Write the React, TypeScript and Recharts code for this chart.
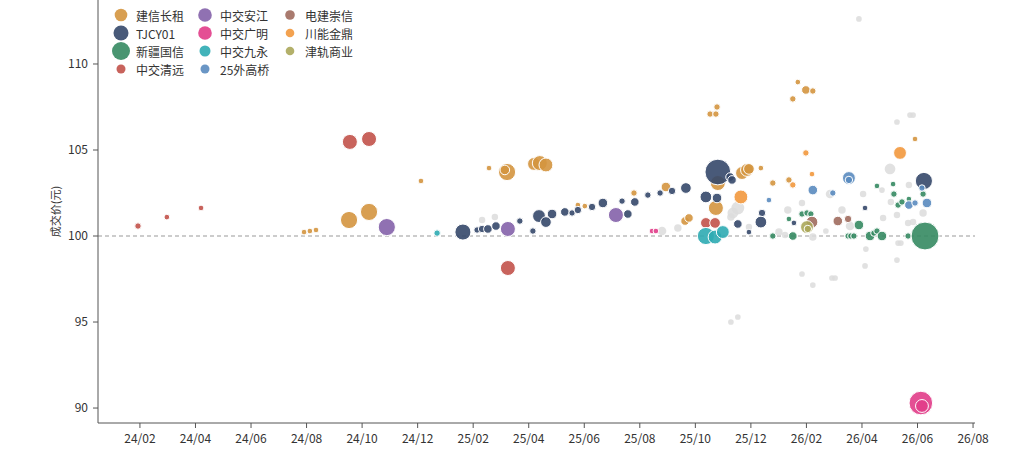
import { ReferenceLine, Scatter, ScatterChart, XAxis, YAxis, ZAxis } from "recharts";

// [月份序号(24/01 = 0), 成交价, 成交量]
type Pt = [number, number, number];

const jianxin: Pt[] = [
  [6.91, 100.23, 7], [7.12, 100.29, 7], [7.34, 100.35, 7], [8.53, 100.93, 64], [9.25, 101.4, 64],
  [11.12, 103.2, 7], [13.57, 103.95, 7], [14.22, 103.72, 64], [14.14, 103.84, 20], [15.19, 104.19, 36],
  [15.4, 104.24, 49], [15.62, 104.13, 42], [16.77, 101.8, 7], [17.02, 101.74, 7], [18.79, 102.5, 9],
  [19.94, 102.85, 20], [20.63, 100.87, 16], [20.77, 101.05, 16], [21.53, 107.09, 9], [21.74, 107.09, 9],
  [21.78, 107.5, 9], [21.81, 103.08, 49], [21.74, 101.63, 49], [22.68, 103.66, 36], [22.86, 103.84, 36],
  [22.93, 103.9, 25], [23.36, 103.95, 7], [23.79, 103.08, 9], [24.37, 103.26, 9], [24.69, 108.95, 7],
  [24.98, 108.49, 16], [25.23, 108.43, 9], [24.51, 107.97, 9], [28.91, 105.64, 7],
];

const tjcy01: Pt[] = [
  [12.63, 100.23, 56], [13.14, 100.35, 9], [13.32, 100.41, 12], [13.53, 100.41, 16], [13.82, 100.58, 16],
  [14.68, 100.87, 9], [15.15, 100.29, 9], [15.37, 101.16, 36], [15.62, 100.81, 25], [15.84, 101.28, 20],
  [16.3, 101.4, 16], [16.56, 101.34, 9], [16.77, 101.51, 12], [17.28, 101.69, 12], [17.67, 101.92, 20],
  [18.36, 102.03, 9], [18.57, 101.28, 16], [18.82, 101.98, 16], [19.29, 102.38, 9], [19.73, 102.5, 9],
  [20.16, 102.62, 12], [20.66, 102.79, 25], [21.81, 103.72, 144], [22.25, 103.43, 16], [22.32, 103.26, 16],
  [21.38, 102.27, 30], [21.78, 102.21, 20], [22.53, 100.7, 16], [22.93, 100.23, 7], [23.4, 101.34, 12],
  [23.36, 100.81, 30], [24.55, 100.76, 7], [27.11, 101.63, 7], [29.23, 103.2, 64],
];

const xinjiang: Pt[] = [
  [23.79, 100, 9], [24.51, 100, 16], [24.37, 100.99, 7], [24.84, 101.28, 9], [25.02, 101.34, 9],
  [25.16, 101.28, 9], [26.89, 100.64, 20], [26.5, 100, 9], [26.6, 100, 9], [26.71, 100, 9],
  [27.29, 100, 20], [27.43, 100.17, 9], [27.54, 100.29, 9], [27.72, 100, 20], [28.66, 100, 9],
  [29.27, 100, 169], [27.54, 102.91, 7], [28.12, 103.02, 7], [28.15, 102.44, 9], [28.3, 101.8, 9],
  [28.44, 101.98, 9], [28.69, 102.15, 7], [29.2, 102.44, 9],
];

const qingyuan: Pt[] = [
  [0.93, 100.58, 9], [1.97, 101.1, 7], [3.2, 101.63, 7], [8.56, 105.47, 49], [9.25, 105.64, 49],
  [14.25, 98.14, 49], [21.38, 100.76, 25], [21.71, 100.76, 25],
];

const anjiang: Pt[] = [[9.89, 100.52, 64], [14.25, 100.41, 49], [18.14, 101.22, 49]];

const guangming: Pt[] = [[19.44, 100.29, 7], [19.58, 100.29, 7], [29.12, 90.29, 121], [29.16, 90.12, 36]];

const jiuyong: Pt[] = [[11.7, 100.17, 9], [21.38, 100, 64], [21.71, 99.94, 42], [21.99, 100.23, 36]];

const waigaoqiao: Pt[] = [
  [23.65, 102.09, 7], [25.23, 102.67, 20], [25.95, 102.5, 9], [26.53, 103.37, 36], [26.53, 103.26, 12],
  [29.16, 102.79, 9], [28.69, 101.8, 16], [28.91, 101.92, 9], [29.34, 101.92, 20],
];

const chongxin: Pt[] = [[25.2, 100.81, 30], [26.13, 100.87, 20], [26.5, 100.99, 12]];

const chuanneng: Pt[] = [[22.64, 102.27, 42], [24.98, 104.83, 9], [25.2, 103.6, 7], [24.51, 102.97, 9], [28.37, 104.83, 36]];

const jingui: Pt[] = [[25.02, 100.52, 36], [25.05, 100.41, 12]];

const others: Pt[] = [
  [13.32, 100.93, 9], [13.78, 101.1, 9], [19.8, 100.29, 16], [20.37, 100.47, 12], [22.53, 101.63, 36],
  [22.35, 101.34, 25], [22.28, 101.1, 12], [22.93, 100.52, 9], [24.01, 100.23, 12], [24.23, 100.06, 9],
  [24.33, 101.51, 12], [24.84, 101.92, 9], [25.23, 99.94, 12], [25.85, 102.44, 16], [26.28, 101.51, 12],
  [26.57, 100.58, 16], [25.7, 100.29, 7], [27.04, 102.44, 9], [28.01, 103.9, 25], [28.69, 102.97, 9],
  [29.2, 101.34, 12], [27.76, 101.05, 9], [28.26, 101.22, 9], [28.66, 100.76, 9], [28.84, 100.81, 9],
  [27.14, 99.24, 7], [28.26, 98.6, 7], [27.11, 98.26, 7], [28.3, 99.59, 7], [28.4, 99.59, 7],
  [28.26, 106.63, 7], [28.73, 107.03, 7], [28.84, 107.03, 7], [26.89, 112.62, 7], [24.84, 97.79, 7],
  [25.23, 97.15, 7], [25.92, 97.56, 7], [26.03, 97.56, 7], [22.28, 95.0, 7], [22.53, 95.29, 7],
  [27.72, 102.67, 7], [28.04, 101.98, 9],
];

const series = [
  { name: "建信长租", color: "#D4953F", data: jianxin, icon: 6.3 },
  { name: "TJCY01", color: "#35486A", data: tjcy01, icon: 7.5 },
  { name: "新疆国信", color: "#358A62", data: xinjiang, icon: 9 },
  { name: "中交清远", color: "#C2524A", data: qingyuan, icon: 4.5 },
  { name: "中交安江", color: "#8462AA", data: anjiang, icon: 6.8 },
  { name: "中交广明", color: "#E13C88", data: guangming, icon: 6.8 },
  { name: "中交九永", color: "#2EABB3", data: jiuyong, icon: 5.5 },
  { name: "25外高桥", color: "#5A8BBF", data: waigaoqiao, icon: 4.5 },
  { name: "电建崇信", color: "#A06B5E", data: chongxin, icon: 4.8 },
  { name: "川能金鼎", color: "#F2983D", data: chuanneng, icon: 4.3 },
  { name: "津轨商业", color: "#ABA75A", data: jingui, icon: 4.3 },
];

const xTicks = [1, 3, 5, 7, 9, 11, 13, 15, 17, 19, 21, 23, 25, 27, 29, 31];
const yTicks = [90, 95, 100, 105, 110];

const font = "'Noto Sans CJK SC', 'Noto Sans', sans-serif";

const toRows = (pts: Pt[]) => pts.map(([m, v, z]) => ({ m, v, z }));

const fmtMonth = (m: number) => {
  const yy = 24 + Math.floor(m / 12);
  const mm = (m % 12) + 1;
  return `${yy}/${String(mm).padStart(2, "0")}`;
};

const LegendBox = () => {
  const cols = [series.slice(0, 4), series.slice(4, 8), series.slice(8)];
  return (
    <div style={{ position: "absolute", left: 110, top: 6, display: "flex", fontFamily: font, fontSize: 12, color: "#333" }}>
      {cols.map((col, ci) => (
        <div key={ci} style={{ width: ci === 0 ? 84 : 85, display: "flex", flexDirection: "column" }}>
          {col.map((s) => (
            <div key={s.name} style={{ display: "flex", alignItems: "center", height: 18 }}>
              <svg width={22} height={18} style={{ flexShrink: 0 }}>
                <circle cx={11} cy={9} r={s.icon} fill={s.color} fillOpacity={0.9} />
              </svg>
              <span style={{ marginLeft: 4, whiteSpace: "nowrap" }}>{s.name}</span>
            </div>
          ))}
        </div>
      ))}
    </div>
  );
};

export default function App() {
  return (
    <div style={{ position: "absolute", left: 0, top: 0, width: 1023, height: 460, background: "#fff" }}>
      <ScatterChart width={1023} height={460} margin={{ top: 0, right: 48, bottom: 0, left: 0 }}>
        <XAxis
          type="number"
          dataKey="m"
          domain={[-0.51, 31.07]}
          ticks={xTicks}
          tickFormatter={fmtMonth}
          height={37}
          tickSize={5}
          tickMargin={6}
          stroke="#555"
          tick={{ fill: "#333", fontSize: 12, fontFamily: font }}
        />
        <YAxis
          type="number"
          dataKey="v"
          domain={[89.13, 113.72]}
          ticks={yTicks}
          width={98}
          tickSize={5}
          tickMargin={5}
          stroke="#555"
          tick={{ fill: "#333", fontSize: 12, fontFamily: font }}
          label={{ value: "成交价(元)", angle: -90, position: "insideLeft", offset: 56, style: { textAnchor: "middle", fontSize: 11, fontFamily: font, fill: "#333" } }}
        />
        <ZAxis type="number" dataKey="z" domain={[0, 169]} range={[0, 169 * Math.PI * 1.15]} />
        <ReferenceLine y={100} stroke="#999" strokeDasharray="4 3" />
        <Scatter
          name="其他"
          data={toRows(others)}
          fill="#DCDCDC"
          fillOpacity={0.85}
          isAnimationActive={false}
        />
        {series.map((s) => (
          <Scatter
            key={s.name}
            name={s.name}
            data={toRows(s.data)}
            fill={s.color}
            fillOpacity={0.9}
            stroke="#fff"
            strokeWidth={1}
            isAnimationActive={false}
          />
        ))}
      </ScatterChart>
      <LegendBox />
    </div>
  );
}
